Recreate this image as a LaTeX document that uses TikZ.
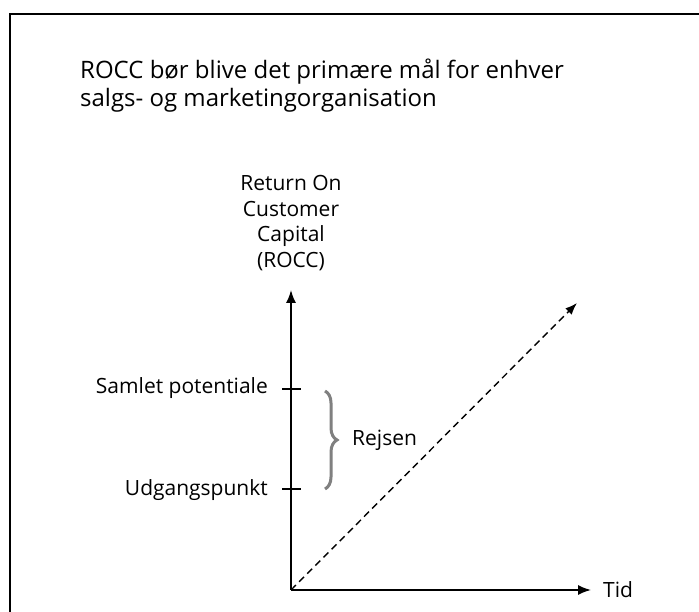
\documentclass[tikz,border=0pt]{standalone}
\usepackage{fontspec}
\setmainfont{Open Sans}
\usetikzlibrary{arrows.meta, decorations.pathreplacing}

\tikzset{
    axis/.style={line width=1.6pt, -{Latex[length=13pt, width=10pt]}},
    trend/.style={line width=1.4pt, dash pattern=on 7pt off 4.5pt, -{Latex[length=12pt, width=9pt]}},
    tick/.style={line width=1.6pt},
    lbl/.style={font=\fontsize{21}{25.5}\selectfont, inner sep=0pt},
}

\begin{document}
\begin{tikzpicture}[x=1pt, y=1pt]
    \useasboundingbox (0,0) rectangle (699,612);

    % Frame, only top and left side are visible
    \draw[line width=2.2pt] (10,0) -- (10,598) -- (699,598);

    % Title
    \node[lbl, font=\fontsize{24}{28}\selectfont, anchor=west, align=left] (title) at (80,526)
        {ROCC bør blive det primære mål for enhver\\salgs- og marketingorganisation};

    % Axes
    \coordinate (origin) at (291,22);
    \coordinate (ytop) at (291,322);
    \coordinate (xend) at (591,22);
    \coordinate (trendend) at (577,309);
    \draw[axis] (origin) -- (ytop);
    \draw[axis] (origin) -- (xend);
    \draw[trend] (origin) -- (trendend);

    \node[lbl, align=center] (rocc) at (291,389) {Return On\\Customer\\Capital\\(ROCC)};
    \node[lbl, anchor=west] (tid) at (603,22) {Tid};

    % Ticks on the y axis
    \coordinate (high) at (291,223);
    \coordinate (low) at (291,123);
    \draw[tick] ([xshift=-9pt]high) -- ([xshift=10pt]high);
    \draw[tick] ([xshift=-9pt]low) -- ([xshift=10pt]low);
    \node[lbl, anchor=east] (samlet) at (268,224) {Samlet potentiale};
    \node[lbl, anchor=east] (udgang) at (268,122) {Udgangspunkt};

    % The journey
    \draw[gray, line width=3pt, decorate, decoration={brace, amplitude=12pt}]
        (325,221) -- (325,123);
    \node[lbl, anchor=west] (rejsen) at (352,172) {Rejsen};
\end{tikzpicture}
\end{document}
